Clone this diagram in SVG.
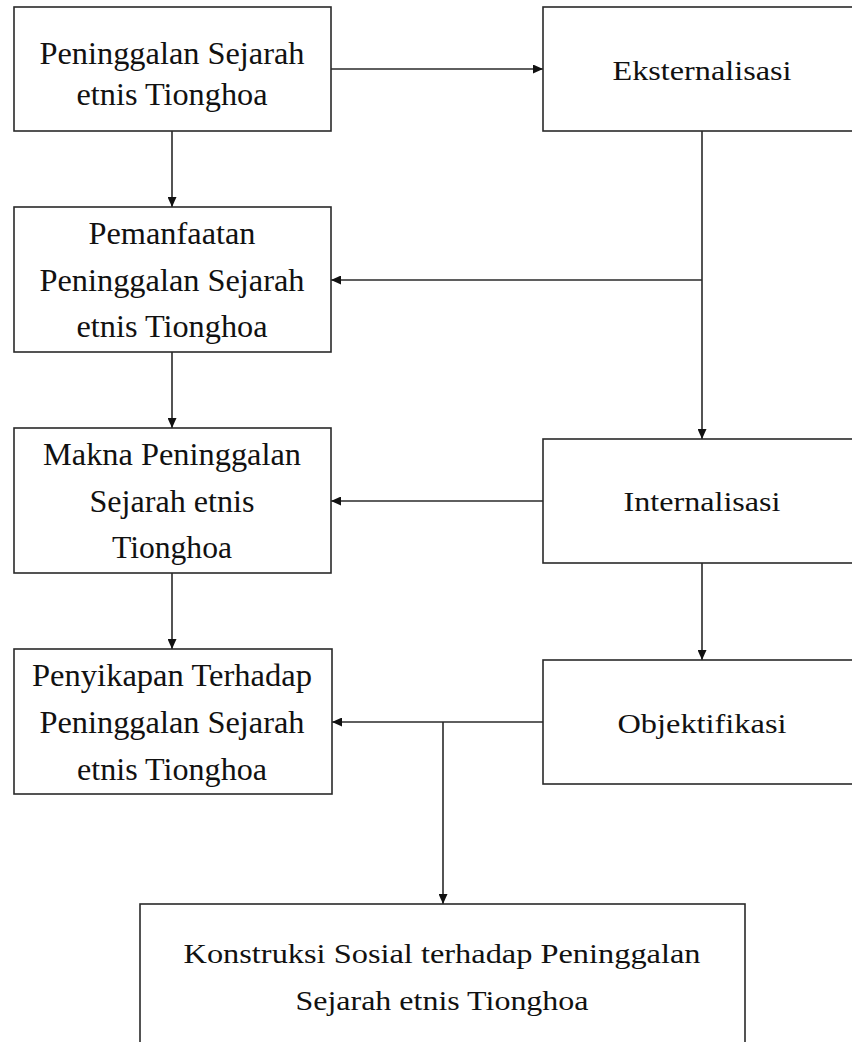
<svg xmlns="http://www.w3.org/2000/svg" width="852" height="1042" viewBox="0 0 852 1042">
<defs>
<style>
.box{fill:#fff;stroke:#2a2a2a;stroke-width:1.6}
.t{font-family:"Liberation Serif","Times New Roman",serif;font-size:31px;fill:#111;text-anchor:middle}
.r{font-family:"Liberation Serif","Times New Roman",serif;font-size:28px;fill:#111;text-anchor:middle}
.c{fill:none;stroke:#2a2a2a;stroke-width:1.6}
</style>
<marker id="ah" markerUnits="userSpaceOnUse" markerWidth="10" markerHeight="9" refX="10" refY="4.5" orient="auto">
<path d="M0,0 L10,4.5 L0,9 z" fill="#111"/>
</marker>
</defs>
<rect width="852" height="1042" fill="#fff"/>
<g id="connectors">
<line class="c" x1="331" y1="69" x2="543" y2="69" marker-end="url(#ah)"/>
<line class="c" x1="172" y1="131" x2="172" y2="207" marker-end="url(#ah)"/>
<line class="c" x1="702" y1="131" x2="702" y2="439" marker-end="url(#ah)"/>
<line class="c" x1="702" y1="280" x2="331" y2="280" marker-end="url(#ah)"/>
<line class="c" x1="172" y1="352" x2="172" y2="428" marker-end="url(#ah)"/>
<line class="c" x1="543" y1="501" x2="331" y2="501" marker-end="url(#ah)"/>
<line class="c" x1="702" y1="563" x2="702" y2="660" marker-end="url(#ah)"/>
<line class="c" x1="172" y1="573" x2="172" y2="649" marker-end="url(#ah)"/>
<line class="c" x1="543" y1="722" x2="332" y2="722" marker-end="url(#ah)"/>
<line class="c" x1="443" y1="722" x2="443" y2="904" marker-end="url(#ah)"/>
</g>
<g id="n-peninggalan">
<rect class="box" x="14" y="7" width="317" height="124"/>
<text class="t" x="172" y="64" textLength="265" lengthAdjust="spacingAndGlyphs">Peninggalan Sejarah</text>
<text class="t" x="172" y="105" textLength="191" lengthAdjust="spacingAndGlyphs">etnis Tionghoa</text>
</g>
<g id="n-eksternalisasi">
<rect class="box" x="543" y="7" width="330" height="124"/>
<text class="r" x="702" y="80" textLength="179" lengthAdjust="spacingAndGlyphs">Eksternalisasi</text>
</g>
<g id="n-pemanfaatan">
<rect class="box" x="14" y="207" width="317" height="145"/>
<text class="t" x="172" y="244" textLength="167" lengthAdjust="spacingAndGlyphs">Pemanfaatan</text>
<text class="t" x="172" y="291" textLength="265" lengthAdjust="spacingAndGlyphs">Peninggalan Sejarah</text>
<text class="t" x="172" y="337" textLength="191" lengthAdjust="spacingAndGlyphs">etnis Tionghoa</text>
</g>
<g id="n-makna">
<rect class="box" x="14" y="428" width="317" height="145"/>
<text class="t" x="172" y="465" textLength="258" lengthAdjust="spacingAndGlyphs">Makna Peninggalan</text>
<text class="t" x="172" y="512" textLength="165" lengthAdjust="spacingAndGlyphs">Sejarah etnis</text>
<text class="t" x="172" y="558" textLength="120" lengthAdjust="spacingAndGlyphs">Tionghoa</text>
</g>
<g id="n-internalisasi">
<rect class="box" x="543" y="439" width="330" height="124"/>
<text class="r" x="702" y="511" textLength="157" lengthAdjust="spacingAndGlyphs">Internalisasi</text>
</g>
<g id="n-penyikapan">
<rect class="box" x="14" y="649" width="318" height="145"/>
<text class="t" x="172" y="686" textLength="280" lengthAdjust="spacingAndGlyphs">Penyikapan Terhadap</text>
<text class="t" x="172" y="733" textLength="265" lengthAdjust="spacingAndGlyphs">Peninggalan Sejarah</text>
<text class="t" x="172" y="780" textLength="190" lengthAdjust="spacingAndGlyphs">etnis Tionghoa</text>
</g>
<g id="n-objektifikasi">
<rect class="box" x="543" y="660" width="330" height="124"/>
<text class="r" x="702" y="733" textLength="169" lengthAdjust="spacingAndGlyphs">Objektifikasi</text>
</g>
<g id="n-konstruksi">
<rect class="box" x="140" y="904" width="605" height="160"/>
<text class="r" x="442" y="963" textLength="517" lengthAdjust="spacingAndGlyphs">Konstruksi Sosial terhadap Peninggalan</text>
<text class="r" x="442" y="1010" textLength="293" lengthAdjust="spacingAndGlyphs">Sejarah etnis Tionghoa</text>
</g>
</svg>
